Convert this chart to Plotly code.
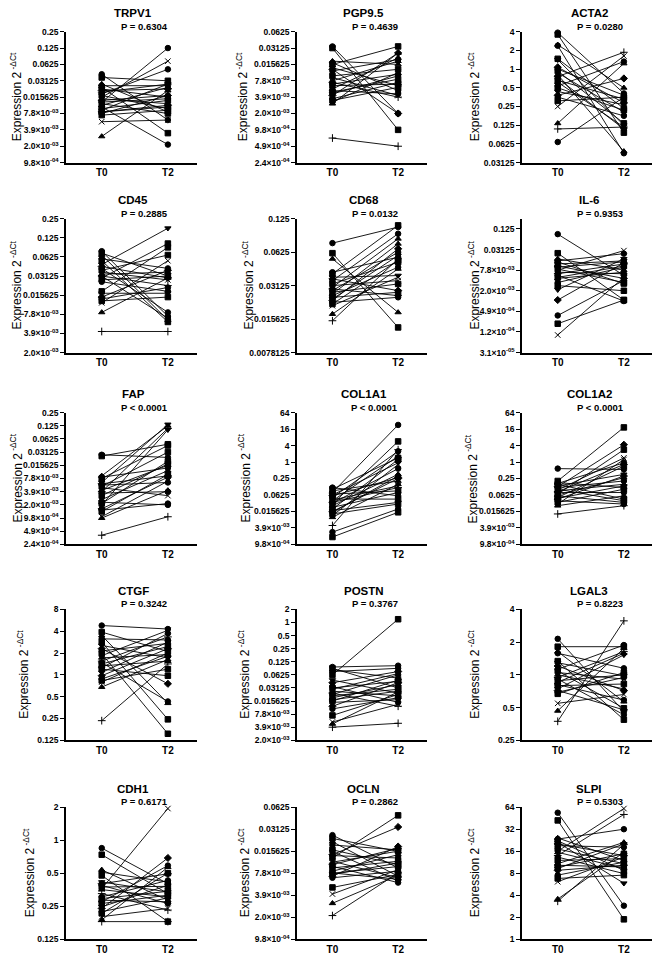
import math
import plotly.graph_objects as go

# Panel names and paired-test results
genes = ["TRPV1", "PGP9.5", "ACTA2",
         "CD45", "CD68", "IL-6",
         "FAP", "COL1A1", "COL1A2",
         "CTGF", "POSTN", "LGAL3",
         "CDH1", "OCLN", "SLPI"]
p_texts = ["P = 0.6304", "P = 0.4639", "P = 0.0280",
           "P = 0.2885", "P = 0.0132", "P = 0.9353",
           "P < 0.0001", "P < 0.0001", "P < 0.0001",
           "P = 0.3242", "P = 0.3767", "P = 0.8223",
           "P = 0.6171", "P = 0.2862", "P = 0.5303"]
timepoints = ["T0", "T2"]

# dCt per subject (plotted value = 2^-dCt)
trpv1_t0 = [4.6, 4.8, 5.2, 5.3, 5.4, 5.5, 5.6, 5.8, 5.9, 6.0, 6.1, 6.2, 6.3, 6.4, 6.5, 6.6, 6.7, 6.8, 6.9, 7.0, 7.1, 7.5, 8.4, 5.7, 6.3, 6.9]
trpv1_t2 = [7.4, 5.0, 6.9, 5.3, 8.2, 6.0, 5.5, 4.3, 6.7, 3.8, 6.4, 5.9, 3.0, 7.0, 5.4, 8.9, 6.2, 5.2, 6.5, 5.9, 6.8, 7.4, 5.6, 5.2, 6.1, 6.6]

pgp95_t0 = [4.9, 5.0, 5.8, 5.9, 6.0, 6.2, 6.3, 6.4, 6.7, 6.8, 7.0, 7.1, 7.2, 7.3, 7.5, 7.6, 7.7, 7.8, 7.9, 8.1, 8.2, 8.3, 8.4, 10.5]
pgp95_t2 = [9.0, 10.0, 6.0, 7.6, 4.9, 7.3, 9.0, 5.7, 6.3, 7.9, 5.8, 8.0, 6.6, 7.2, 5.6, 7.8, 6.9, 6.7, 5.3, 7.1, 7.4, 6.5, 5.3, 11.0]

acta2_t0 = [-1.95, -1.85, -1.3, -1.25, -0.55, -0.5, -0.1, 0.0, 0.1, 0.2, 0.3, 0.4, 0.5, 0.6, 0.7, 0.9, 1.0, 1.2, 1.4, 1.5, 1.7, 2.0, 2.9, 3.2, 3.9]
acta2_t2 = [1.3, 3.4, 1.0, 4.5, 2.1, 3.0, 1.8, 1.4, 2.9, 2.3, 4.4, -0.9, 3.2, 1.6, 3.1, -0.4, 2.2, 1.9, 0.5, 2.5, 1.5, -0.7, -0.3, 3.1, 1.5]

cd45_t0 = [3.7, 3.8, 3.9, 4.1, 4.2, 4.4, 4.5, 4.6, 4.7, 4.8, 4.9, 5.0, 5.0, 5.1, 5.2, 5.3, 5.8, 5.9, 6.1, 6.2, 6.3, 6.4, 6.9, 7.9]
cd45_t2 = [7.1, 5.0, 7.3, 4.6, 7.4, 2.5, 5.1, 6.9, 3.9, 5.2, 4.8, 5.5, 7.2, 3.3, 5.0, 5.8, 3.5, 5.9, 4.7, 5.6, 6.1, 4.2, 5.1, 7.9]

cd68_t0 = [3.73, 4.03, 4.2, 4.6, 4.65, 4.75, 4.8, 4.85, 4.95, 5.0, 5.05, 5.1, 5.15, 5.2, 5.25, 5.3, 5.35, 5.4, 5.45, 5.5, 5.55, 5.6, 5.85, 6.05]
cd68_t2 = [3.25, 6.25, 5.8, 4.15, 3.2, 4.7, 5.15, 3.45, 4.3, 4.85, 3.6, 5.3, 4.0, 4.95, 3.75, 4.45, 5.2, 4.1, 3.9, 5.35, 4.25, 4.75, 4.5, 4.2]

il6_t0 = [3.5, 5.35, 5.9, 6.1, 6.2, 6.4, 6.6, 6.7, 6.9, 7.0, 7.2, 7.35, 7.5, 7.7, 7.8, 8.2, 8.5, 8.9, 9.9, 11.4, 12.2, 13.3]
il6_t2 = [7.5, 9.9, 7.0, 5.4, 8.3, 6.1, 7.8, 6.2, 8.2, 5.1, 7.35, 6.4, 10.0, 6.6, 7.2, 6.7, 9.0, 5.9, 6.3, 8.0, 9.9, 7.7]

fap_t0 = [5.2, 5.3, 6.8, 6.9, 7.0, 7.3, 7.4, 7.5, 7.6, 7.7, 7.9, 8.0, 8.1, 8.3, 8.6, 8.8, 8.9, 9.0, 9.3, 9.4, 9.5, 9.9, 10.0, 11.3]
fap_t2 = [5.4, 4.4, 3.0, 6.2, 4.5, 2.9, 6.8, 7.3, 5.0, 8.3, 6.0, 3.2, 8.0, 5.9, 6.4, 9.0, 5.7, 3.3, 6.9, 8.9, 6.7, 7.2, 7.9, 9.9]

col1a1_t0 = [3.1, 3.3, 3.5, 3.7, 3.9, 4.0, 4.1, 4.3, 4.5, 4.6, 4.7, 4.9, 5.0, 5.1, 5.3, 5.5, 5.7, 5.9, 6.0, 6.1, 6.3, 6.5, 6.7, 7.7, 8.5, 9.1]
col1a1_t2 = [4.1, -0.5, 2.3, -4.5, 3.5, 0.1, 1.9, -1.3, 4.5, 2.9, -0.7, 3.1, 0.8, -2.5, 1.5, 3.7, -0.3, 4.9, 2.0, 1.7, 5.1, 0.3, 2.7, -1.5, 5.7, 6.1]

col1a2_t0 = [0.8, 2.3, 2.5, 2.6, 2.7, 2.9, 3.0, 3.1, 3.3, 3.4, 3.5, 3.6, 3.7, 3.9, 4.0, 4.1, 4.3, 4.4, 4.5, 4.7, 4.9, 5.1, 5.3, 6.3]
col1a2_t2 = [0.9, -4.2, 3.1, 0.1, 4.5, 1.5, -2.1, 2.3, 4.7, -0.5, 2.7, 0.3, 3.7, -1.5, 1.9, 4.9, 0.5, 2.9, 1.7, 5.1, 3.3, -0.3, 4.1, 5.3]

ctgf_t0 = [-2.26, -1.96, -1.8, -1.65, -1.5, -1.35, -1.2, -1.1, -0.97, -0.88, -0.78, -0.63, -0.56, -0.5, -0.41, -0.33, -0.26, -0.11, 0.04, 0.19, 0.26, 0.33, 0.56, 2.1]
ctgf_t2 = [-2.1, -1.07, 1.3, -1.6, 2.04, -0.78, 0.41, -1.44, 2.7, -2.04, -0.93, -1.74, 1.22, -1.3, -0.63, -1.9, 0.04, -1.5, -1.2, -0.85, -0.26, -1.0, -0.7, -0.5]

postn_t0 = [3.4, 3.5, 3.6, 3.75, 4.0, 4.4, 4.6, 4.9, 5.0, 5.1, 5.25, 5.4, 5.5, 5.6, 5.75, 5.9, 6.0, 6.1, 6.4, 6.6, 7.1, 7.6, 7.75, 8.0]
postn_t2 = [3.3, 5.0, 4.25, 3.5, -0.25, 5.4, 3.75, 6.1, 4.5, 3.9, 5.6, 6.4, 4.0, 5.1, 4.75, 5.25, 4.4, 5.9, 4.6, 5.75, 5.5, 6.25, 5.3, 7.7]

lgal3_t0 = [-1.1, -0.86, -0.71, -0.66, -0.42, -0.37, -0.27, -0.17, -0.12, -0.07, 0.0, 0.08, 0.13, 0.18, 0.23, 0.3, 0.33, 0.43, 0.48, 0.53, 0.58, 0.87, 1.1, 1.42]
lgal3_t2 = [1.12, -0.86, 0.82, -0.2, 1.37, 0.03, 0.48, -0.91, 1.02, 0.13, 0.43, -0.71, 1.22, 0.0, -0.66, 0.77, 0.28, -0.61, 1.07, 0.08, -0.07, 0.6, -0.81, -1.65]

cdh1_t0 = [0.24, 0.44, 0.9, 0.97, 1.07, 1.27, 1.32, 1.37, 1.42, 1.47, 1.5, 1.62, 1.72, 1.77, 1.82, 1.87, 1.92, 2.02, 2.07, 2.17, 2.22, 2.32, 2.42, 2.47]
cdh1_t2 = [1.32, 1.62, 1.82, 1.27, 2.47, 1.57, 1.02, 1.92, 1.4, -0.96, 1.72, 2.12, 1.22, 1.55, 1.87, 0.77, 1.67, 1.37, 0.54, 1.75, 1.0, 2.07, 0.82, 2.47]

ocln_t0 = [5.27, 5.42, 5.57, 5.72, 5.94, 6.01, 6.16, 6.2, 6.31, 6.46, 6.5, 6.61, 6.69, 6.76, 6.91, 6.99, 7.0, 7.06, 7.14, 7.21, 7.65, 7.95, 8.37, 8.93]
ocln_t2 = [6.76, 6.01, 7.14, 5.94, 6.61, 7.36, 4.9, 6.31, 4.37, 7.21, 6.0, 5.87, 7.43, 6.46, 6.16, 7.28, 6.7, 6.54, 5.79, 6.91, 7.06, 6.84, 7.1, 6.99]

slpi_t0 = [-5.75, -5.4, -4.6, -4.55, -4.47, -4.4, -4.33, -4.25, -4.1, -4.0, -3.95, -3.8, -3.73, -3.58, -3.43, -3.36, -3.28, -3.21, -3.13, -2.91, -2.76, -2.61, -1.82, -1.72]
slpi_t2 = [-1.52, -0.9, -3.58, -5.0, -3.13, -2.54, -3.8, -4.18, -3.43, -5.94, -3.21, -5.67, -2.98, -3.66, -4.4, -3.28, -3.88, -4.33, -3.36, -3.5, -2.91, -3.73, -3.95, -4.3]

t0_series = [trpv1_t0, pgp95_t0, acta2_t0, cd45_t0, cd68_t0, il6_t0, fap_t0, col1a1_t0, col1a2_t0,
             ctgf_t0, postn_t0, lgal3_t0, cdh1_t0, ocln_t0, slpi_t0]
t2_series = [trpv1_t2, pgp95_t2, acta2_t2, cd45_t2, cd68_t2, il6_t2, fap_t2, col1a1_t2, col1a2_t2,
             ctgf_t2, postn_t2, lgal3_t2, cdh1_t2, ocln_t2, slpi_t2]

# y axis ticks as powers of two (exponents), and their labels
tick_exps = [
    [-2, -3, -4, -5, -6, -7, -8, -9, -10],
    [-4, -5, -6, -7, -8, -9, -10, -11, -12],
    [2, 1, 0, -1, -2, -3, -4, -5],
    [-2, -3, -4, -5, -6, -7, -8, -9],
    [-3, -4, -5, -6, -7],
    [-3, -5, -7, -9, -11, -13, -15],
    [-2, -3, -4, -5, -6, -7, -8, -9, -10, -11, -12],
    [6, 4, 2, 0, -2, -4, -6, -8, -10],
    [6, 4, 2, 0, -2, -4, -6, -8, -10],
    [3, 2, 1, 0, -1, -2, -3],
    [1, 0, -1, -2, -3, -4, -5, -6, -7, -8, -9],
    [2, 1, 0, -1, -2],
    [1, 0, -1, -2, -3],
    [-4, -5, -6, -7, -8, -9, -10],
    [6, 5, 4, 3, 2, 1, 0],
]
y_ranges = [(-10, -2), (-12, -4), (-5, 2), (-9, -2), (-7, -3), (-15, -2), (-12, -2), (-10, 6), (-10, 6),
            (-3, 3), (-9, 1), (-2, 2), (-3, 1), (-10, -4), (0, 6)]

tick_labels = {6: "64", 5: "32", 4: "16", 3: "8", 2: "4", 1: "2", 0: "1", -1: "0.5", -2: "0.25",
               -3: "0.125", -4: "0.0625", -5: "0.03125", -6: "0.015625",
               -7: "7.8×10<sup>-03</sup>", -8: "3.9×10<sup>-03</sup>", -9: "2.0×10<sup>-03</sup>",
               -10: "9.8×10<sup>-04</sup>", -11: "4.9×10<sup>-04</sup>", -12: "2.4×10<sup>-04</sup>",
               -13: "1.2×10<sup>-04</sup>", -15: "3.1×10<sup>-05</sup>"}
cd68_labels = ["0.125", "0.0625", "0.03125", "0.015625", "0.0078125"]

symbols = ["circle", "square", "triangle-up", "circle", "square", "triangle-down",
           "diamond", "circle", "square", "x-thin", "triangle-up", "cross-thin"]

# layout in page pixels (the page body adds an 8px margin)
OFF = 8
W, H = 646, 947
col_left = [66, 297, 522]
col_right = [197, 427, 653]
row_top = [27, 217, 414, 614, 815]
row_bot = [160, 353, 548, 747, 949]
ylabel_x = [16, 242, 474, 16, 248, 474, 16, 244, 471, 23, 244, 474, 29, 244, 474]
FONT = "Liberation Sans, Arial, sans-serif"


def px(x):
    return (x - OFF) / W


def py(y):
    return 1 - (y - OFF) / H


fig = go.Figure()
annotations = []
LOG2 = math.log10(2)

for i, gene in enumerate(genes):
    r, c = divmod(i, 3)
    n = i + 1
    xs, ys, syms = [], [], []
    for j, (a, b) in enumerate(zip(t0_series[i], t2_series[i])):
        s = symbols[j % len(symbols)]
        xs += [0, 1, None]
        ys += [2 ** (-a), 2 ** (-b), None]
        syms += [s, s, s]
    fig.add_trace(go.Scatter(
        x=xs, y=ys, mode="lines+markers", xaxis=f"x{n}", yaxis=f"y{n}",
        line=dict(color="black", width=0.9),
        marker=dict(symbol=syms, size=5.5, color="black", line=dict(color="black", width=1)),
        cliponaxis=False, hoverinfo="skip", showlegend=False,
    ))

    exps = tick_exps[i]
    labels = cd68_labels if gene == "CD68" else [tick_labels[e] for e in exps]
    lo, hi = y_ranges[i]
    fig.update_layout({
        f"xaxis{n}": dict(
            domain=[px(col_left[c]), px(col_right[c])], anchor=f"y{n}",
            range=[-0.54, 1.44], tickvals=[0, 1], ticktext=timepoints,
            showline=True, linecolor="black", linewidth=1.5, ticks="",
            showgrid=False, zeroline=False,
            tickfont=dict(family=FONT, size=10, color="black", weight="bold"),
        ),
        f"yaxis{n}": dict(
            domain=[py(row_bot[r]), py(row_top[r])], anchor=f"x{n}",
            type="log", range=[lo * LOG2, hi * LOG2],
            tickvals=[2 ** e for e in exps], ticktext=labels,
            showline=True, linecolor="black", linewidth=1.5,
            ticks="outside", ticklen=4, tickwidth=1.2, tickcolor="black",
            showgrid=False, zeroline=False,
            tickfont=dict(family=FONT, size=8.5, color="black", weight="bold"),
        ),
    })

    cx = (col_left[c] + col_right[c]) / 2
    annotations.append(dict(
        text=f"<b>{gene}</b>", x=px(cx + 1.5), y=py(row_top[r] - 19), xref="paper", yref="paper",
        showarrow=False, xanchor="center", yanchor="middle",
        font=dict(family=FONT, size=11.5, color="black"),
    ))
    annotations.append(dict(
        text=f"<b>{p_texts[i]}</b>", x=px(cx + 12.5), y=py(row_top[r] - 5.5), xref="paper", yref="paper",
        showarrow=False, xanchor="center", yanchor="middle",
        font=dict(family=FONT, size=9.5, color="black"),
    ))
    annotations.append(dict(
        text="Expression 2<sup> -ΔCt</sup>", x=px(ylabel_x[i]), y=py((row_top[r] + row_bot[r]) / 2),
        xref="paper", yref="paper", showarrow=False, textangle=-90,
        xanchor="center", yanchor="middle",
        font=dict(family=FONT, size=12, color="black"),
    ))

fig.update_layout(
    width=W, height=H,
    margin=dict(l=0, r=0, t=0, b=0),
    plot_bgcolor="white", paper_bgcolor="white",
    showlegend=False,
    annotations=annotations,
)

fig.write_html("out.html")
